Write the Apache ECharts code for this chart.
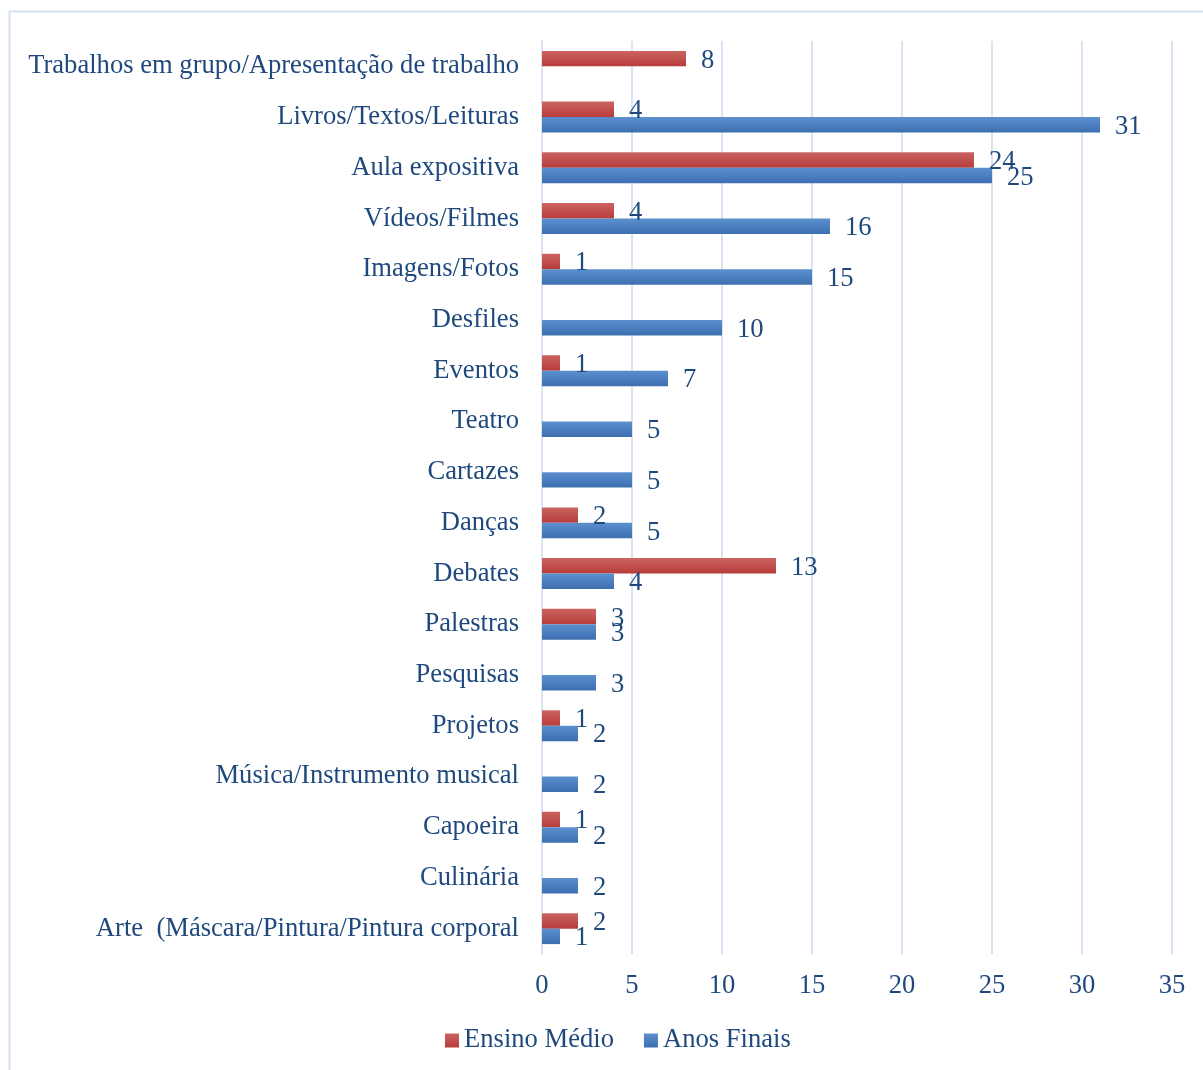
<style>body { margin: 0; }</style>
<div id="chart" style="width: 1203px; height: 1070px;"></div>

<script src="https://cdn.jsdelivr.net/npm/echarts@6/dist/echarts.min.js"></script>
<script>
  const chart = echarts.init(document.getElementById('chart'));

  const categories = [
    'Trabalhos em grupo/Apresentação de trabalho',
    'Livros/Textos/Leituras',
    'Aula expositiva',
    'Vídeos/Filmes',
    'Imagens/Fotos',
    'Desfiles',
    'Eventos',
    'Teatro',
    'Cartazes',
    'Danças',
    'Debates',
    'Palestras',
    'Pesquisas',
    'Projetos',
    'Música/Instrumento musical',
    'Capoeira',
    'Culinária',
    'Arte  (Máscara/Pintura/Pintura corporal'
  ];
  const ensinoMedio = [8, 4, 24, 4, 1, null, 1, null, null, 2, 13, 3, null, 1, null, 1, null, 2];
  const anosFinais = [null, 31, 25, 16, 15, 10, 7, 5, 5, 5, 4, 3, 3, 2, 2, 2, 2, 1];

  const textColor = '#1f497d';
  const font = 'Liberation Serif';
  const fontSize = 26.6;
  const gridColor = '#d9e3f1';

  const grad = (a, b) => new echarts.graphic.LinearGradient(0, 0, 0, 1, [
    { offset: 0, color: a },
    { offset: 1, color: b }
  ]);

  const labelStyle = {
    show: true,
    position: 'right',
    distance: 15,
    offset: [0, 2],
    color: textColor,
    fontFamily: font,
    fontSize: fontSize
  };

  const option = {
    animation: false,
    backgroundColor: '#fff',
    graphic: [{
      type: 'rect',
      shape: { x: 9.5, y: 11.5, width: 1200, height: 1070 },
      style: { fill: 'none', stroke: '#d6e1f0', lineWidth: 2 }
    }],
    grid: { left: 542, right: 31, top: 41, bottom: 116 },
    legend: {
      left: 440,
      top: 1022,
      itemWidth: 14,
      itemHeight: 14,
      itemGap: 30,
      icon: 'rect',
      textStyle: { color: textColor, fontFamily: font, fontSize: fontSize },
      data: ['Ensino Médio', 'Anos Finais']
    },
    xAxis: {
      type: 'value',
      min: 0,
      max: 35,
      interval: 5,
      axisLine: { show: false },
      axisTick: { show: false },
      splitLine: { lineStyle: { color: gridColor, width: 2 } },
      axisLabel: { color: textColor, fontFamily: font, fontSize: fontSize, margin: 19 }
    },
    yAxis: {
      type: 'category',
      inverse: true,
      data: categories,
      axisLine: { show: true, lineStyle: { color: gridColor, width: 2 } },
      axisTick: { show: false },
      axisLabel: { color: textColor, fontFamily: font, fontSize: fontSize, margin: 23, padding: [4, 0, 0, 0] }
    },
    series: [
      {
        name: 'Ensino Médio',
        type: 'bar',
        data: ensinoMedio,
        barGap: '0%',
        barCategoryGap: '39%',
        itemStyle: { color: grad('#cb6461', '#b73c39') },
        label: labelStyle
      },
      {
        name: 'Anos Finais',
        type: 'bar',
        data: anosFinais,
        itemStyle: { color: grad('#5b8fce', '#3d6fb0') },
        label: labelStyle
      }
    ]
  };

  chart.setOption(option);
</script>
